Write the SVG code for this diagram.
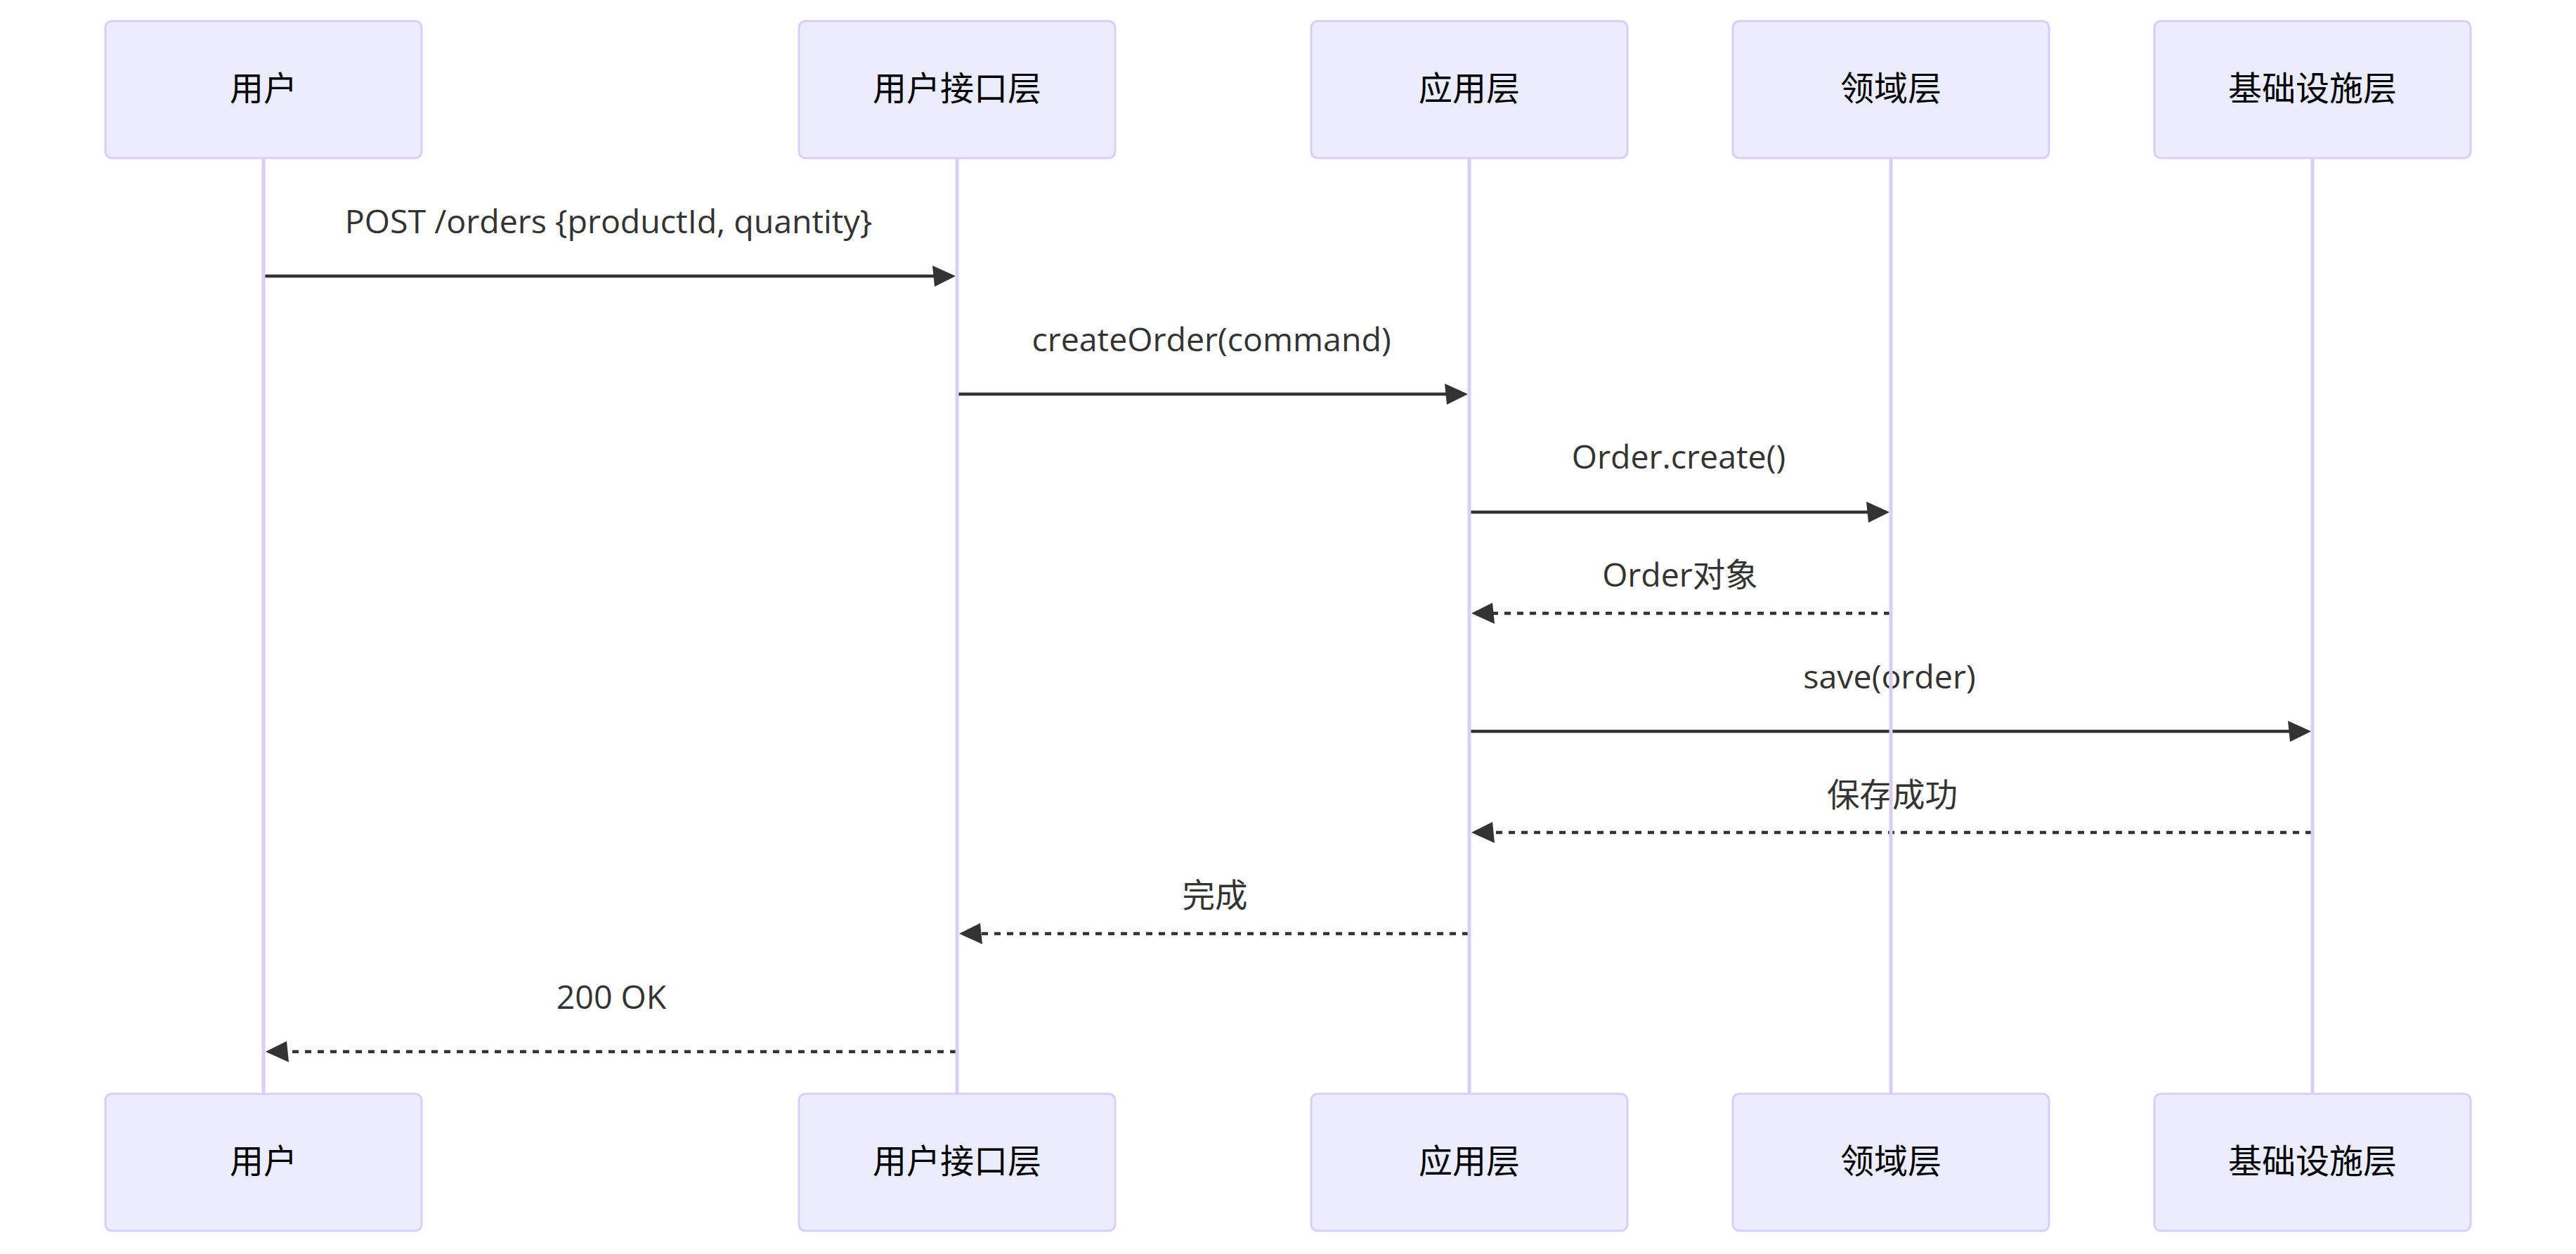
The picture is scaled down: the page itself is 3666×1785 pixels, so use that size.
<svg xmlns="http://www.w3.org/2000/svg" width="3666" height="1785" viewBox="0 0 3666 1785">
<style>
.actor{fill:#ECECFF;stroke:hsl(259.6,59.7%,87.9%);stroke-width:3}
.actor-label{font-family:"Noto Sans CJK SC","Noto Sans",sans-serif;font-size:48px;fill:#000;text-anchor:middle;dominant-baseline:central}
.lifeline{stroke:hsl(259.6,59.7%,87.9%);stroke-width:5}
.msg{stroke:#333;stroke-width:4.5;fill:none;marker-end:url(#arrowhead)}
.dotted{stroke-dasharray:9,9}
.msg-label{font-family:"Open Sans","Noto Sans CJK SC",sans-serif;font-size:46.5px;fill:#333;text-anchor:middle}
</style>
<defs>
<marker id="arrowhead" viewBox="-1 0 11 10" refX="7" refY="5" markerWidth="33" markerHeight="30" markerUnits="userSpaceOnUse" orient="auto">
<path d="M -1 0 L 10 5 L 0 10 z" fill="#333"/>
</marker>
</defs>
<rect width="3666" height="1785" fill="#fff"/>
<g id="actors-top">
<g id="actor-user"><rect class="actor" x="150" y="30" width="450" height="195" rx="9"/><text class="actor-label" x="375" y="121.5">用户</text></g>
<g id="actor-ui"><rect class="actor" x="1137" y="30" width="450" height="195" rx="9"/><text class="actor-label" x="1362" y="121.5">用户接口层</text></g>
<g id="actor-app"><rect class="actor" x="1866" y="30" width="450" height="195" rx="9"/><text class="actor-label" x="2091" y="121.5">应用层</text></g>
<g id="actor-domain"><rect class="actor" x="2466" y="30" width="450" height="195" rx="9"/><text class="actor-label" x="2691" y="121.5">领域层</text></g>
<g id="actor-infra"><rect class="actor" x="3066" y="30" width="450" height="195" rx="9"/><text class="actor-label" x="3291" y="121.5">基础设施层</text></g>
</g>
<g id="actors-bottom">
<g id="actor-user-bottom"><rect class="actor" x="150" y="1557" width="450" height="195" rx="9"/><text class="actor-label" x="375" y="1648.5">用户</text></g>
<g id="actor-ui-bottom"><rect class="actor" x="1137" y="1557" width="450" height="195" rx="9"/><text class="actor-label" x="1362" y="1648.5">用户接口层</text></g>
<g id="actor-app-bottom"><rect class="actor" x="1866" y="1557" width="450" height="195" rx="9"/><text class="actor-label" x="2091" y="1648.5">应用层</text></g>
<g id="actor-domain-bottom"><rect class="actor" x="2466" y="1557" width="450" height="195" rx="9"/><text class="actor-label" x="2691" y="1648.5">领域层</text></g>
<g id="actor-infra-bottom"><rect class="actor" x="3066" y="1557" width="450" height="195" rx="9"/><text class="actor-label" x="3291" y="1648.5">基础设施层</text></g>
</g>
<g id="messages">
<text class="msg-label" x="866" y="332">POST /orders {productId, quantity}</text>
<line class="msg" x1="376" y1="393" x2="1351" y2="393"/>
<text class="msg-label" x="1724" y="500">createOrder(command)</text>
<line class="msg" x1="1363" y1="561" x2="2080" y2="561"/>
<text class="msg-label" x="2389" y="667">Order.create()</text>
<line class="msg" x1="2092" y1="729" x2="2680" y2="729"/>
<text class="msg-label" x="2391" y="835">Order对象</text>
<line class="msg dotted" x1="2690" y1="873" x2="2103" y2="873"/>
<text class="msg-label" x="2689" y="980">save(order)</text>
<line class="msg" x1="2092" y1="1041" x2="3280" y2="1041"/>
<text class="msg-label" x="2693" y="1147.5">保存成功</text>
<line class="msg dotted" x1="3290" y1="1185" x2="2103" y2="1185"/>
<text class="msg-label" x="1729" y="1291">完成</text>
<line class="msg dotted" x1="2090" y1="1329" x2="1374" y2="1329"/>
<text class="msg-label" x="870" y="1436">200 OK</text>
<line class="msg dotted" x1="1361" y1="1497" x2="387" y2="1497"/>
</g>
<g id="lifelines">
<line class="lifeline" x1="375" y1="226" x2="375" y2="1556"/>
<line class="lifeline" x1="1362" y1="226" x2="1362" y2="1556"/>
<line class="lifeline" x1="2091" y1="226" x2="2091" y2="1556"/>
<line class="lifeline" x1="2691" y1="226" x2="2691" y2="1556"/>
<line class="lifeline" x1="3291" y1="226" x2="3291" y2="1556"/>
</g>
</svg>
